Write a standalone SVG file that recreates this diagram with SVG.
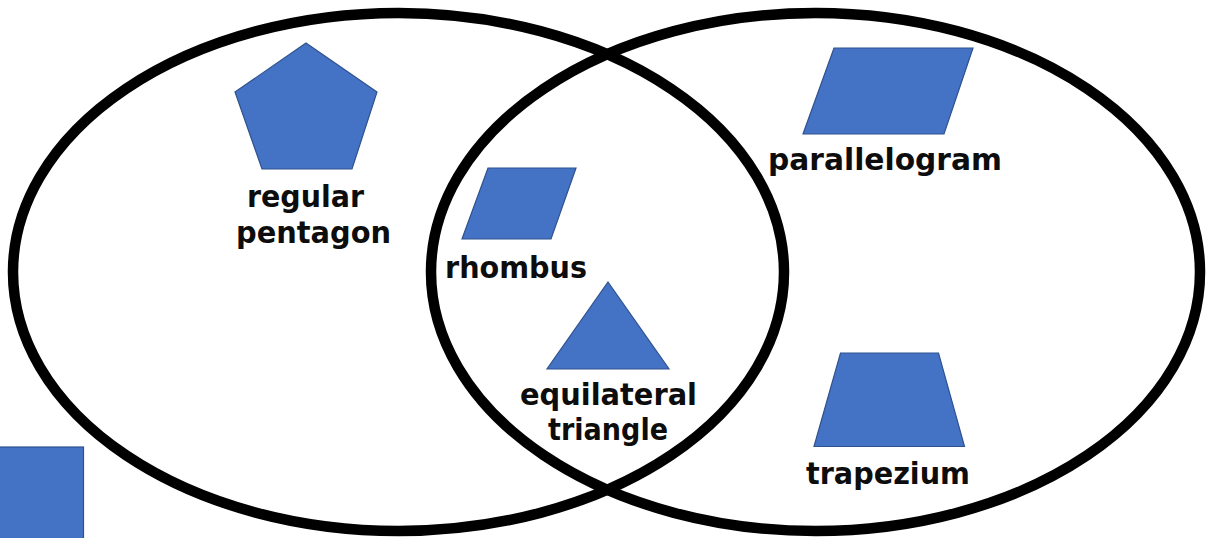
<svg xmlns="http://www.w3.org/2000/svg" width="1212" height="538" viewBox="0 0 1212 538">
  <style>
    .set { fill: none; stroke: #000000; stroke-width: 10.5; }
    .shape { fill: #4472C4; stroke: #2F528F; stroke-width: 1.2; stroke-linejoin: miter; }
    .lbl { font-family: "DejaVu Sans", "Liberation Sans", sans-serif; font-weight: bold; font-size: 30px; fill: #0d0d0d; text-anchor: middle; }
  </style>
  <rect x="0" y="0" width="1212" height="538" fill="#ffffff"/>
  <g id="sets">
    <ellipse id="set-left" class="set" cx="398.5" cy="272" rx="385.5" ry="259"/>
    <ellipse id="set-right" class="set" cx="815.5" cy="272" rx="384.5" ry="259"/>
  </g>
  <g id="regular-pentagon">
    <polygon class="shape" points="306,43 377,92 352,169 262,169 235,92"/>
    <text class="lbl" x="305.5" y="207" textLength="117" lengthAdjust="spacingAndGlyphs">regular</text>
    <text class="lbl" x="313.5" y="243" textLength="155" lengthAdjust="spacingAndGlyphs">pentagon</text>
  </g>
  <g id="rhombus">
    <polygon class="shape" points="488,168 576,168 551,239 462,239"/>
    <text class="lbl" x="516" y="278" textLength="142" lengthAdjust="spacingAndGlyphs">rhombus</text>
  </g>
  <g id="equilateral-triangle">
    <polygon class="shape" points="608,282 669,369 547,369"/>
    <text class="lbl" x="608.5" y="405" textLength="177" lengthAdjust="spacingAndGlyphs">equilateral</text>
    <text class="lbl" x="608" y="440" textLength="120" lengthAdjust="spacingAndGlyphs">triangle</text>
  </g>
  <g id="parallelogram">
    <polygon class="shape" points="834,48 973,48 944,134 803,134"/>
    <text class="lbl" x="885" y="170" textLength="234" lengthAdjust="spacingAndGlyphs">parallelogram</text>
  </g>
  <g id="trapezium">
    <polygon class="shape" points="840.5,353 938.5,353 964.5,446.5 814,446.5"/>
    <text class="lbl" x="888" y="484" textLength="164" lengthAdjust="spacingAndGlyphs">trapezium</text>
  </g>
  <g id="square">
    <rect class="shape" x="-2" y="447" width="85.5" height="94"/>
  </g>
</svg>
